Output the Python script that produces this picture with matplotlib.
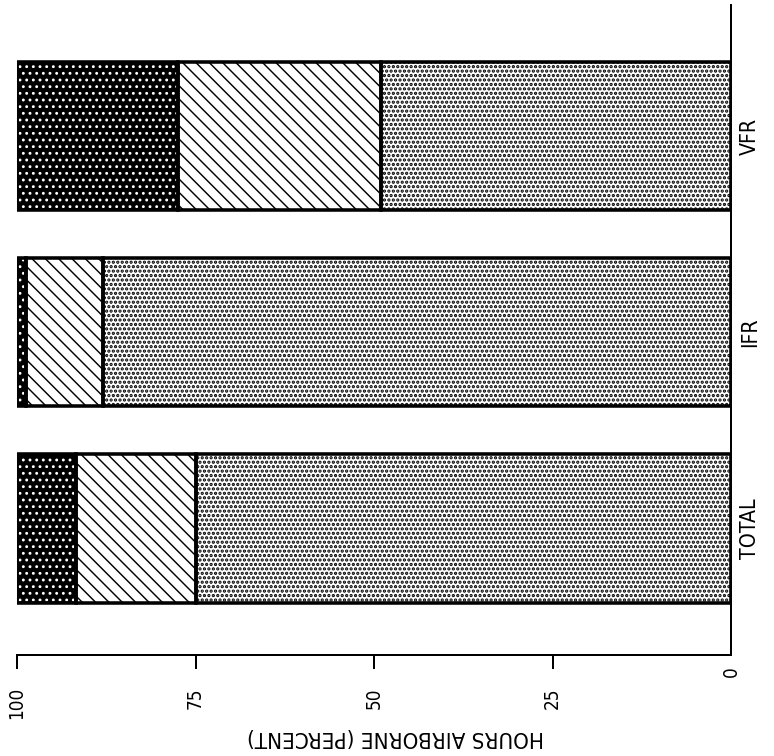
import matplotlib
matplotlib.use("Agg")
import matplotlib.pyplot as plt

categories = ["TOTAL", "IFR", "VFR"]
dotted_vals = [75.0, 88.0, 49.0]
hatched_vals = [16.7, 10.8, 28.5]
dark_vals = [8.3, 1.2, 22.5]
x_ticks = [100, 75, 50, 25, 0]
x_tick_labels = ["100", "75", "50", "25", "0"]
x_label = "HOURS AIRBORNE (PERCENT)"

plt.rcParams["font.family"] = ["DejaVu Sans"]
plt.rcParams["font.stretch"] = "condensed"
plt.rcParams["hatch.linewidth"] = 1.0

DPI = 80
fig = plt.figure(figsize=(774 / DPI, 756 / DPI), dpi=DPI)
ax = fig.add_axes([17 / 774, 101 / 756, 714 / 774, 650 / 756])

ypos = list(range(len(categories)))
h = 0.755

left1 = [0] * 3
left2 = dotted_vals
left3 = [a + b for a, b in zip(dotted_vals, hatched_vals)]

# fills with hatch patterns
b1 = ax.barh(ypos, dotted_vals, left=left1, height=h, color="white",
             edgecolor="black", hatch="...", linewidth=0)
b2 = ax.barh(ypos, hatched_vals, left=left2, height=h, color="white",
             edgecolor="black", hatch="\\\\", linewidth=0)
b3 = ax.barh(ypos, dark_vals, left=left3, height=h, color="black",
             edgecolor="white", hatch="..", linewidth=0)
for p in b1:
    p.set_hatch_linewidth(2.0)
for p in b2:
    p.set_hatch_linewidth(1.3)
for p in b3:
    p.set_hatch_linewidth(1.4)
# outlines
for vals, lefts in [(dotted_vals, left1), (hatched_vals, left2), (dark_vals, left3)]:
    ax.barh(ypos, vals, left=lefts, height=h, fill=False,
            edgecolor="black", linewidth=3.2)

ax.set_xlim(100, 0)
ax.set_ylim(-0.645, 2.668)

for s in ["top", "left"]:
    ax.spines[s].set_visible(False)
for s in ["bottom", "right"]:
    ax.spines[s].set_linewidth(1.8)

ax.set_xticks(x_ticks)
ax.set_xticklabels(x_tick_labels, rotation=90, fontsize=17, va="top")
ax.tick_params(axis="x", length=13, width=1.8, pad=16, direction="out")
ticks = ax.xaxis.get_major_ticks()
ticks[-1].tick1line.set_visible(False)
ticks[-1].set_pad(-3)

ax.yaxis.tick_right()
ax.set_yticks(ypos)
ax.set_yticklabels(categories, rotation=90, fontsize=19, va="center")
ax.tick_params(axis="y", length=0, pad=8)

fig.text(396 / 774, 1 - 737 / 756, x_label, rotation=180, fontsize=20,
         ha="center", va="center")

fig.savefig("out.png", dpi=DPI)
